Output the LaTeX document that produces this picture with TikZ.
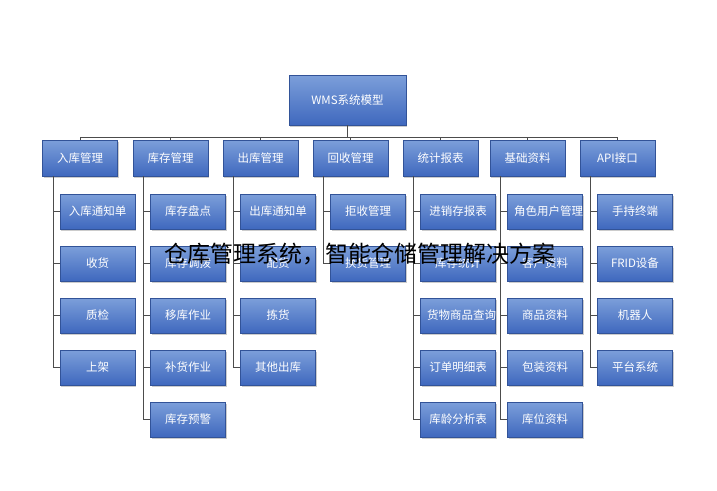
\documentclass[tikz,border=0pt]{standalone}
\usepackage{fontspec}
\setmainfont{Noto Sans CJK SC}
\newfontfamily\cjk{Noto Sans CJK SC}
\usetikzlibrary{shadows}
\definecolor{btop}{HTML}{7C9FDA}
\definecolor{bbot}{HTML}{3F68BE}
\tikzset{box/.style={draw=bbot!80!black,line width=0.3pt,top color=btop,bottom color=bbot,text=white,font=\cjk\fontsize{11.5}{13}\selectfont,align=center,inner sep=1pt,drop shadow={shadow xshift=1pt,shadow yshift=-1.5pt,opacity=0.4}},
ln/.style={draw=black!70,line width=0.5pt}}
\begin{document}
\begin{tikzpicture}[x=1pt,y=-1pt]
\useasboundingbox[fill=white] (0,0) rectangle (717,490);
\node[box,minimum width=117pt,minimum height=50pt] (top) at (347.5,100) {WMS系统模型};
\coordinate (bus) at (347.5,137);
\def\cx{{80,170.5,260.5,350.5,440.5,527.5,617.5}}
\foreach \i/\t in {0/入库管理,1/库存管理,2/出库管理,3/回收管理,4/统计报表,5/基础资料,6/API接口}{
  \pgfmathsetmacro\x{\cx[\i]}
  \node[box,minimum width=75pt,minimum height=36pt] (c\i) at (\x,158) {\t};
  \draw[ln] (\x,137) -- (c\i.north);
}
\draw[ln] (top.south) -- (bus);
\draw[ln] (c0.north |- bus) -- (c6.north |- bus);
\newcommand\col[3]{%
  \foreach \t [count=\k] in {#3}{
    \pgfmathsetmacro\y{211.5+52*(\k-1)}
    \node[box,minimum width=75pt,minimum height=35pt,text width=62pt] (n#1\k) at ([xshift=17.5pt]c#1.south |- 0,\y) {\t};
    \draw[ln] ([xshift=-27pt]c#1.south |- 0,\y) -- (n#1\k.west);
  }
  \draw[ln] ([xshift=-27pt]c#1.south) -- ([xshift=-27pt]c#1.south |- 0,#2);
}
\col{0}{367.5}{入库通知单,收货,质检,上架}
\col{1}{419.5}{库存盘点,库存调拨,移库作业,补货作业,库存预警}
\col{2}{367.5}{出库通知单,配货,拣货,其他出库}
\col{3}{263.5}{拒收管理,换货管理}
\col{4}{419.5}{进销存报表,库存统计,货物商品查询,订单明细表,库龄分析表}
\col{5}{419.5}{角色用户管理,客户资料,商品资料,包装资料,库位资料}
\col{6}{367.5}{手持终端,FRID设备,机器人,平台系统}
\node[font=\cjk\fontsize{23}{26}\selectfont,text=black] (wm) at (360,254) {仓库管理系统，智能仓储管理解决方案};
\end{tikzpicture}
\end{document}
